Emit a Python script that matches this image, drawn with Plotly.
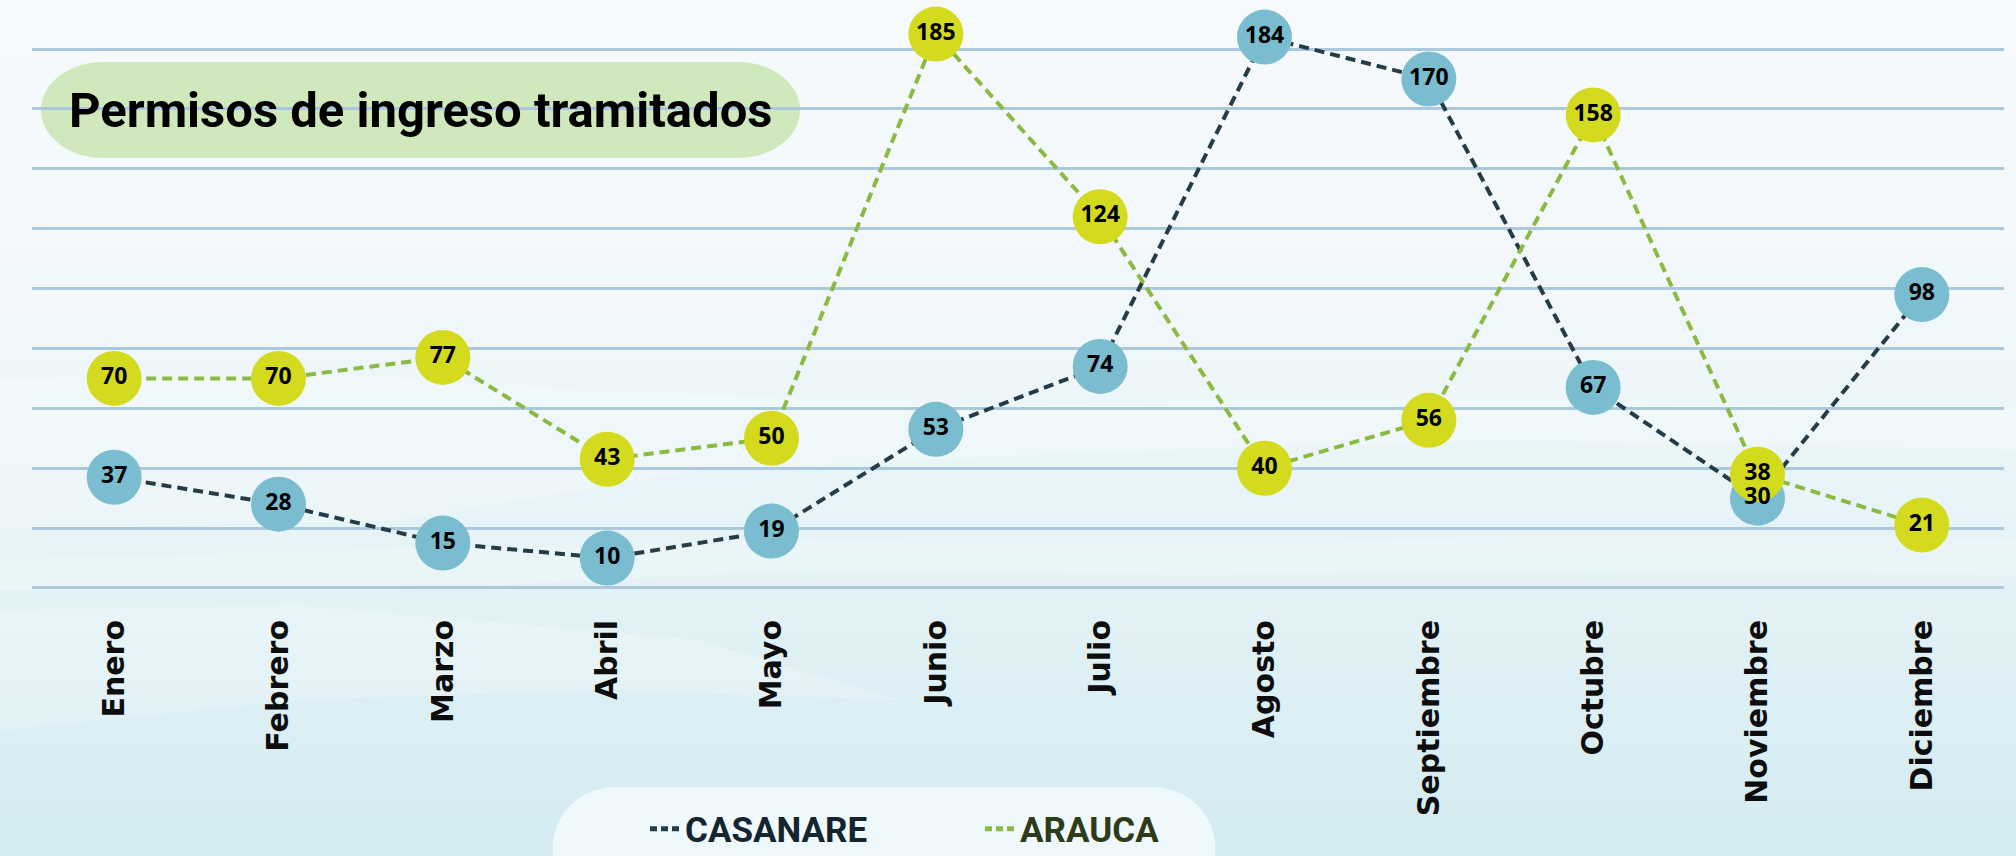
import plotly.graph_objects as go

# ---------------- data ----------------
months = ["Enero", "Febrero", "Marzo", "Abril", "Mayo", "Junio", "Julio",
          "Agosto", "Septiembre", "Octubre", "Noviembre", "Diciembre"]
casanare = [37, 28, 15, 10, 19, 53, 74, 184, 170, 67, 30, 98]
arauca = [70, 70, 77, 43, 50, 185, 124, 40, 56, 158, 38, 21]
title_text = "Permisos de ingreso tramitados"

# ---------------- geometry helpers ----------------
W, H = 2016, 856
L, R, T, B = 32, 12, 10, 256
PW, PH = W - L - R, H - T - B


def fx(x):
    return (x - L) / PW


def fy(y):
    return (H - B - y) / PH


def rounded_path(x0, y0, x1, y1, rx, ry):
    k = 0.5523
    pts = [
        f"M{fx(x0 + rx)},{fy(y0)}",
        f"L{fx(x1 - rx)},{fy(y0)}",
        f"C{fx(x1 - rx + k * rx)},{fy(y0)} {fx(x1)},{fy(y0 + ry - k * ry)} {fx(x1)},{fy(y0 + ry)}",
        f"L{fx(x1)},{fy(y1 - ry)}",
        f"C{fx(x1)},{fy(y1 - ry + k * ry)} {fx(x1 - rx + k * rx)},{fy(y1)} {fx(x1 - rx)},{fy(y1)}",
        f"L{fx(x0 + rx)},{fy(y1)}",
        f"C{fx(x0 + rx - k * rx)},{fy(y1)} {fx(x0)},{fy(y1 - ry + k * ry)} {fx(x0)},{fy(y1 - ry)}",
        f"L{fx(x0)},{fy(y0 + ry)}",
        f"C{fx(x0)},{fy(y0 + ry - k * ry)} {fx(x0 + rx - k * rx)},{fy(y0)} {fx(x0 + rx)},{fy(y0)}",
        "Z",
    ]
    return " ".join(pts)


def poly_path(points):
    return "M" + " L".join(f"{fx(x)},{fy(y)}" for x, y in points) + " Z"


def lerp_color(stops, t):
    for (t0, c0), (t1, c1) in zip(stops[:-1], stops[1:]):
        if t0 <= t <= t1:
            u = (t - t0) / (t1 - t0) if t1 > t0 else 0
            return "rgb(%d,%d,%d)" % tuple(round(a + (b - a) * u) for a, b in zip(c0, c1))
    return "rgb(%d,%d,%d)" % stops[-1][1]


shapes = []
# background vertical gradient
grad = [(0, (247, 250, 252)), (330, (240, 247, 250)), (560, (229, 243, 247)), (856, (211, 235, 241))]
step = 12
for y in range(0, H, step):
    shapes.append(dict(type="rect", xref="paper", yref="paper", layer="below",
                       x0=fx(0), x1=fx(W), y0=fy(y), y1=fy(y + step + 1),
                       fillcolor=lerp_color(grad, y + step / 2), line=dict(width=0)))

# soft light "cloud" bands in the background
clouds = [
    [(0, 380), (300, 372), (620, 392), (1000, 405), (1400, 398), (2016, 408), (2016, 450),
     (1500, 440), (1100, 452), (700, 470), (400, 520), (0, 530)],
    [(0, 560), (400, 548), (800, 540), (1200, 545), (1600, 535), (2016, 540), (2016, 575),
     (1600, 570), (1200, 575), (800, 570), (400, 590), (0, 590)],
    [(0, 610), (300, 605), (700, 640), (900, 700), (600, 690), (300, 700), (0, 730)],
]
for c in clouds:
    shapes.append(dict(type="path", xref="paper", yref="paper", layer="below",
                       path=poly_path(c), fillcolor="rgba(255,255,255,0.22)", line=dict(width=0)))

# title pill
shapes.append(dict(type="path", xref="paper", yref="paper", layer="below",
                   path=rounded_path(41, 62, 800, 158, 62, 48),
                   fillcolor="#cfe9bc", line=dict(width=0)))
# legend box
shapes.append(dict(type="path", xref="paper", yref="paper", layer="below",
                   path=rounded_path(553, 787, 1215, 930, 62, 60),
                   fillcolor="#eff8fa", line=dict(width=0)))

cas_line = "#243b48"
ara_line = "#8aba42"
cas_fill = "#7bbdd0"
ara_fill = "#d4da1e"
label_font = dict(family="Noto Sans", size=23, color="#000", weight="bold")

fig = go.Figure()
# lines
fig.add_trace(go.Scatter(x=months, y=casanare, mode="lines", showlegend=False,
                         line=dict(color=cas_line, width=4, dash="10px,6px"),
                         hoverinfo="skip", cliponaxis=False))
fig.add_trace(go.Scatter(x=months, y=arauca, mode="lines", showlegend=False,
                         line=dict(color=ara_line, width=4, dash="10px,6px"),
                         hoverinfo="skip", cliponaxis=False))
# markers
fig.add_trace(go.Scatter(x=months, y=casanare, mode="markers", showlegend=False,
                         name="CASANARE",
                         marker=dict(size=55, color=cas_fill, line=dict(width=0)),
                         cliponaxis=False))
fig.add_trace(go.Scatter(x=months, y=arauca, mode="markers", showlegend=False,
                         name="ARAUCA",
                         marker=dict(size=55, color=ara_fill, line=dict(width=0)),
                         cliponaxis=False))
# value labels on top of every marker
fig.add_trace(go.Scatter(x=months, y=casanare, mode="text", showlegend=False,
                         text=[str(v) for v in casanare], textposition="middle center",
                         textfont=label_font, hoverinfo="skip", cliponaxis=False))
fig.add_trace(go.Scatter(x=months, y=arauca, mode="text", showlegend=False,
                         text=[str(v) for v in arauca], textposition="middle center",
                         textfont=label_font, hoverinfo="skip", cliponaxis=False))
# legend entries
fig.add_trace(go.Scatter(x=[None], y=[None], mode="lines",
                         name='<span style="color:#13252f">CASANARE</span>',
                         line=dict(color=cas_line, width=5, dash="7px,4px")))
fig.add_trace(go.Scatter(x=[None], y=[None], mode="lines",
                         name='<span style="color:#2d3b19">ARAUCA</span>',
                         line=dict(color=ara_line, width=5, dash="7px,4px")))

fig.update_layout(
    width=W, height=H,
    margin=dict(l=L, r=R, t=T, b=B, pad=0, autoexpand=False),
    paper_bgcolor="#f4f9fb", plot_bgcolor="rgba(0,0,0,0)",
    shapes=shapes,
    showlegend=True,
    legend=dict(orientation="h", x=fx(645), xanchor="left", y=fy(829), yanchor="middle",
                bgcolor="rgba(0,0,0,0)",
                font=dict(family="Roboto", size=35, color="#13252f", weight="bold"),
                entrywidth=290, entrywidthmode="pixels", itemclick=False),
    annotations=[dict(text=title_text, xref="paper", yref="paper",
                      x=fx(420), y=fy(111), xanchor="center", yanchor="middle",
                      showarrow=False,
                      font=dict(family="Roboto", size=49, color="#000", weight="bold"))],
)
fig.update_xaxes(type="category", range=[-0.5, 11.5], showgrid=False, zeroline=False,
                 showline=False, tickangle=-90, ticks="outside", ticklen=7,
                 tickcolor="rgba(0,0,0,0)",
                 tickfont=dict(family="DejaVu Sans", size=30, color="#0d0d0d", weight="bold"))
fig.update_yaxes(range=[-4.01, 193.05], dtick=20, tick0=0, showgrid=True,
                 gridcolor="#abc8dc", gridwidth=3, zeroline=False,
                 showticklabels=False, showline=False)

fig.write_html("out.html", config={"displayModeBar": False},
               post_script="document.body.style.margin='0';document.body.style.overflow='hidden';")
